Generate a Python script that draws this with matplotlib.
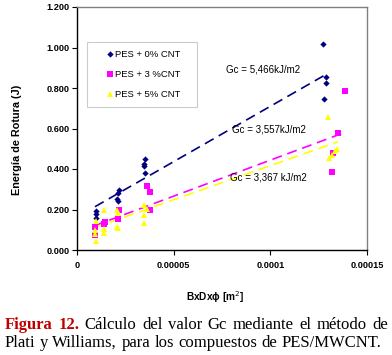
import numpy as np
import matplotlib
matplotlib.use('Agg')
from matplotlib import pyplot as plt

# Data (x in m2, y in J)
x_0 = [9.6e-6, 9.6e-6, 9.6e-6, 21.6e-6, 21.0e-6, 20.6e-6, 21.2e-6,
       35.0e-6, 34.5e-6, 34.7e-6, 35.0e-6, 127e-6, 128.6e-6, 129e-6, 128e-6]
y_0 = [0.193, 0.178, 0.160, 0.296, 0.280, 0.250, 0.243,
       0.450, 0.425, 0.415, 0.380, 1.017, 0.856, 0.824, 0.745]

x_3 = [9.4e-6, 9.2e-6, 14.4e-6, 14.2e-6, 21.6e-6, 21.2e-6, 36.4e-6,
       37.5e-6, 37.6e-6, 135e-6, 138.6e-6, 132e-6, 132.5e-6]
y_3 = [0.115, 0.074, 0.138, 0.128, 0.198, 0.153, 0.318,
       0.288, 0.198, 0.577, 0.785, 0.387, 0.478]

x_5 = [9.6e-6, 9.4e-6, 9.4e-6, 9.8e-6, 14e-6, 14e-6, 14e-6, 20.6e-6, 21e-6,
       20.6e-6, 21e-6, 34.7e-6, 34.7e-6, 34.7e-6, 36.4e-6, 130e-6, 134.7e-6,
       130.4e-6, 132e-6, 133.5e-6]
y_5 = [0.145, 0.099, 0.079, 0.044, 0.197, 0.104, 0.084, 0.197, 0.182,
       0.115, 0.108, 0.222, 0.173, 0.133, 0.202, 0.658, 0.499,
       0.456, 0.469, 0.487]

# Trendlines: slope = Gc (J/m2), intercept
gc = [5466, 3557, 3367]
intercepts = [0.163, 0.088, 0.080]
line_x = [(9.3e-6, 128.4e-6), (9.0e-6, 137e-6), (9.0e-6, 135e-6)]

series_labels = ['PES + 0% CNT', 'PES + 3 %CNT', 'PES + 5% CNT']
gc_labels = ['Gc = 5,466kJ/m2', 'Gc = 3,557kJ/m2', 'Gc = 3,367 kJ/m2']
xticks = [0, 0.00005, 0.0001, 0.00015]
xtick_labels = ['0', '0.00005', '0.0001', '0.00015']
yticks = [0, 0.2, 0.4, 0.6, 0.8, 1.0, 1.2]

plt.rcParams['font.family'] = ['Liberation Sans', 'DejaVu Sans']

W, H = 392, 355
fig = plt.figure(figsize=(W / 100, H / 100), dpi=100)
ax = fig.add_axes([77 / W, 1 - 250 / H, 290 / W, 243 / H])

colors = ['#000080', '#FF00FF', '#FFFF00']
markers = ['D', 's', '^']
msizes = [3.2, 4.2, 4.5]
xs = [x_0, x_3, x_5]
ys = [y_0, y_3, y_5]

for i in range(3):
    ax.plot(xs[i], ys[i], linestyle='none', marker=markers[i], color=colors[i],
            markersize=msizes[i], markeredgewidth=0, label=series_labels[i], zorder=3)
    lx = np.array(line_x[i])
    ax.plot(lx, gc[i] * lx + intercepts[i], color=colors[i], linestyle=(0, (6, 3.5)),
            linewidth=1.2, zorder=2)

# Gc annotations
ann_pos = [(263, 69), (269, 130), (268, 178)]
for lbl, (px, py) in zip(gc_labels, ann_pos):
    fig.text(px / W, 1 - py / H, lbl, fontsize=7, ha='center', va='center')

ax.set_xlim(0, 0.00015)
ax.set_ylim(0, 1.2)
ax.set_xticks(xticks)
ax.set_xticklabels(xtick_labels)
ax.set_yticks(yticks)
ax.set_yticklabels(['%.3f' % v for v in yticks])
ax.tick_params(direction='out', length=3.5, width=0.8, labelsize=6.6, pad=2)
for lab in ax.get_xticklabels() + ax.get_yticklabels():
    lab.set_fontweight('bold')
ax.tick_params(axis='x', pad=4.5)

ax.spines['left'].set_color('black')
ax.spines['bottom'].set_color('black')
ax.spines['top'].set_color('#808080')
ax.spines['right'].set_color('#808080')
for s in ax.spines.values():
    s.set_linewidth(1.0)

ax.set_ylabel('Energía de Rotura (J)', fontsize=7.8, fontweight='bold')
ax.yaxis.set_label_coords(-0.191, 0.453)
ax.set_xlabel('BxDxϕ [m$^2$]', fontsize=7.3, fontweight='bold')
ax.xaxis.set_label_coords(0.476, -0.163)

# legend box spans x 87..197 px, top at 42 px
leg_h = 61 / 243
leg = ax.legend(loc='upper left', bbox_to_anchor=(0.034, 0.857 - leg_h, 0.379, leg_h),
                mode='expand', fontsize=6.8,
                frameon=True, fancybox=False, edgecolor='#BFBFBF', handlelength=3.2,
                handletextpad=-1.1, labelspacing=1.15, borderpad=0.9,
                markerscale=1.0, borderaxespad=0)
leg.get_frame().set_linewidth(0.8)

# Caption, justified across the width
renderer = fig.canvas.get_renderer()


def justify(words, y, x0, x1):
    texts = []
    total = 0
    for w, col, wt in words:
        t = fig.text(0, 1 - y / H, w, fontsize=12, family='Liberation Serif',
                     color=col, fontweight=wt, va='center', ha='left')
        wpx = t.get_window_extent(renderer).width
        texts.append((t, wpx))
        total += wpx
    gap = (x1 - x0 - total) / (len(words) - 1)
    x = x0
    for t, wpx in texts:
        t.set_x(x / W)
        x += wpx + gap


red = '#C00000'
line1 = [('Figura', red, 'bold'), ('12.', red, 'bold')] + \
    [(w, 'black', 'normal') for w in 'Cálculo del valor Gc mediante el método de'.split()]
line2 = [(w, 'black', 'normal') for w in 'Plati y Williams, para los compuestos de PES/MWCNT.'.split()]
justify(line1, 325, 5, 388)
justify(line2, 343, 5, 381)

fig.savefig('out.png', dpi=100)
